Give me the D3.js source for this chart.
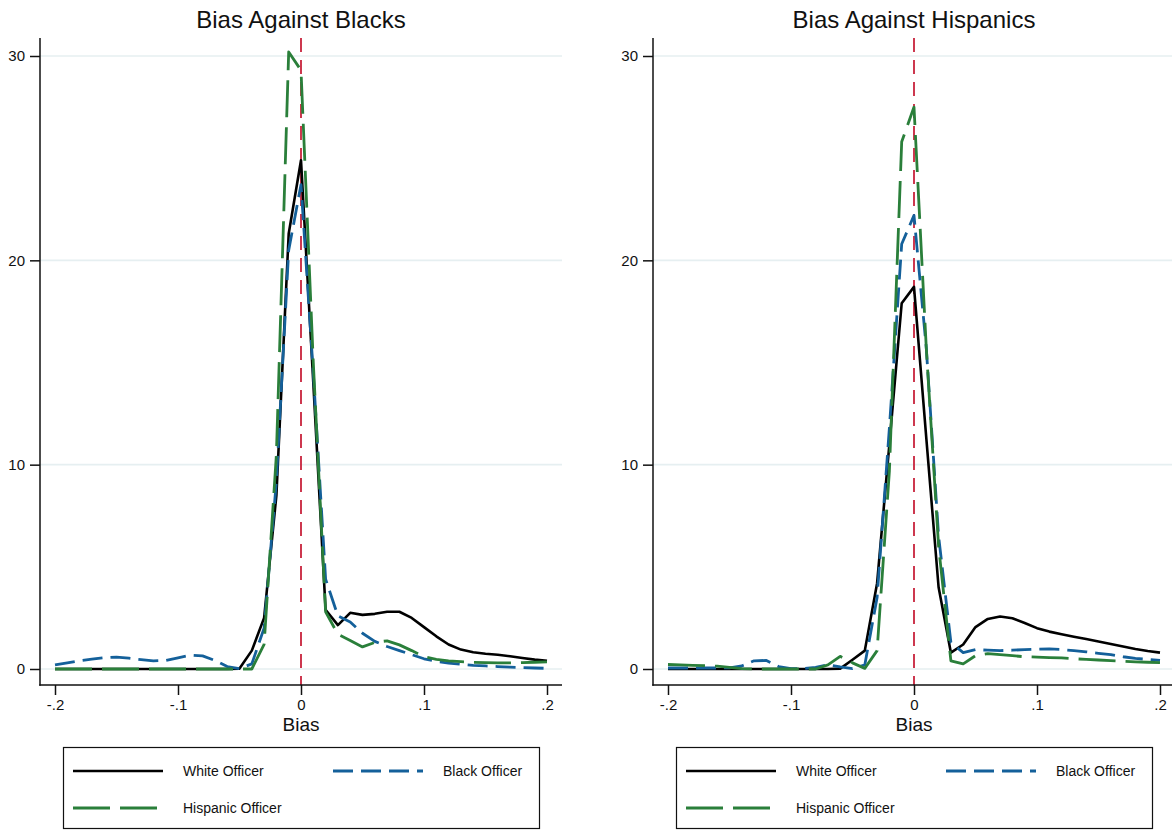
<!DOCTYPE html>
<html>
<head>
<meta charset="utf-8">
<script src="https://cdn.jsdelivr.net/npm/d3@7"></script>
<style>
  html, body { margin: 0; padding: 0; background: #ffffff; }
  svg { display: block; font-family: "Liberation Sans", Arial, Helvetica, sans-serif; }
</style>
</head>
<body>
<svg id="chart" width="1172" height="831"></svg>
<script>
// Evaluation grid for the kernel densities (bias values)
const biasGrid = [-0.20, -0.19, -0.18, -0.17, -0.16, -0.15, -0.14, -0.13, -0.12, -0.11,
                  -0.10, -0.09, -0.08, -0.07, -0.06, -0.05, -0.04, -0.03, -0.02, -0.01,
                   0.00,  0.01,  0.02,  0.03,  0.04,  0.05,  0.06,  0.07,  0.08,  0.09,
                   0.10,  0.11,  0.12,  0.13,  0.14,  0.15,  0.16,  0.17,  0.18,  0.19, 0.20];

// Bias against Blacks: density by officer race
const blacksWhite    = [0, 0, 0, 0, 0, 0, 0, 0, 0, 0,
                        0, 0, 0, 0, 0, 0.02, 0.9, 2.5, 8.5, 21.3,
                        24.9, 14.0, 2.9, 2.15, 2.75, 2.65, 2.7, 2.8, 2.8, 2.5,
                        2.05, 1.6, 1.2, 0.95, 0.82, 0.75, 0.7, 0.62, 0.54, 0.46, 0.4];
const blacksBlack    = [0.2, 0.3, 0.4, 0.48, 0.55, 0.58, 0.53, 0.46, 0.4, 0.42,
                        0.55, 0.68, 0.64, 0.42, 0.12, 0.02, 0.25, 2.0, 9.2, 20.5,
                        23.7, 14.5, 4.4, 2.6, 2.3, 1.75, 1.35, 1.1, 0.9, 0.7,
                        0.5, 0.38, 0.29, 0.23, 0.18, 0.15, 0.12, 0.09, 0.07, 0.05, 0.03];
const blacksHispanic = [0, 0, 0, 0, 0, 0, 0, 0, 0, 0,
                        0, 0, 0, 0, 0, 0, 0, 1.2, 10.5, 30.2,
                        29.3, 15.0, 2.8, 1.7, 1.4, 1.08, 1.3, 1.38, 1.18, 0.9,
                        0.6, 0.47, 0.4, 0.36, 0.33, 0.31, 0.3, 0.3, 0.31, 0.33, 0.35];

// Bias against Hispanics: density by officer race
const hispWhite      = [0, 0, 0, 0, 0, 0, 0, 0, 0, 0,
                        0, 0, 0, 0, 0.02, 0.45, 0.9, 4.2, 11.0, 17.9,
                        18.7, 11.3, 4.0, 0.8, 1.2, 2.05, 2.45, 2.57, 2.48, 2.25,
                        2.0, 1.83, 1.7, 1.58, 1.47, 1.35, 1.22, 1.1, 0.98, 0.88, 0.8];
const hispBlack      = [0.05, 0.05, 0.05, 0.05, 0.05, 0.06, 0.15, 0.4, 0.42, 0.12,
                        0.02, 0.02, 0.08, 0.2, 0.1, 0.02, 0.2, 3.5, 11.8, 20.8,
                        22.2, 15.7, 6.5, 1.3, 0.8, 0.95, 0.92, 0.9, 0.92, 0.95,
                        0.97, 0.98, 0.95, 0.9, 0.84, 0.77, 0.7, 0.6, 0.52, 0.47, 0.42];
const hispHispanic   = [0.22, 0.2, 0.18, 0.17, 0.14, 0.08, 0.02, 0, 0, 0,
                        0, 0, 0, 0.2, 0.62, 0.3, 0.03, 0.9, 9.7, 25.8,
                        27.5, 15.7, 6.0, 0.4, 0.25, 0.65, 0.75, 0.7, 0.65, 0.6,
                        0.58, 0.56, 0.54, 0.5, 0.47, 0.44, 0.41, 0.38, 0.35, 0.33, 0.31];

const panelTitles  = ["Bias Against Blacks", "Bias Against Hispanics"];
const seriesNames  = ["White Officer", "Black Officer", "Hispanic Officer"];
const xTickValues  = [-0.2, -0.1, 0, 0.1, 0.2];
const xTickLabels  = ["-.2", "-.1", "0", ".1", ".2"];
const yTickValues  = [0, 10, 20, 30];
const yTickLabels  = ["0", "10", "20", "30"];
const xLineAt      = 0;

const panels = [
  { title: panelTitles[0], series: [blacksWhite, blacksBlack, blacksHispanic] },
  { title: panelTitles[1], series: [hispWhite, hispBlack, hispHispanic] }
];

// Line styles per officer series
const styles = [
  { color: "#000000", width: 2.6, dash: null },
  { color: "#14609a", width: 2.8, dash: "20,8" },
  { color: "#2a7f3a", width: 2.8, dash: "37,10" }
];

const svg = d3.select("#chart");
const panelShift = 613;

panels.forEach((p, i) => {
  const ox = i * panelShift;
  const g = svg.append("g").attr("transform", `translate(${ox},0)`);

  const x = d3.scaleLinear().domain([-0.2, 0.2]).range([55, 547]);
  const y = d3.scaleLinear().domain([0, 30]).range([669, 56]);

  const plotLeft = 40, plotRight = 562, plotTop = 38, plotBottom = 685;

  // gridlines
  g.append("g").selectAll("line").data(yTickValues).join("line")
    .attr("x1", plotLeft).attr("x2", plotRight)
    .attr("y1", d => y(d)).attr("y2", d => y(d))
    .attr("stroke", "#e6eff1").attr("stroke-width", 1.6);

  // reference line at zero bias
  g.append("line")
    .attr("x1", x(xLineAt)).attr("x2", x(xLineAt))
    .attr("y1", plotTop).attr("y2", plotBottom)
    .attr("stroke", "#c8233c").attr("stroke-width", 1.8)
    .attr("stroke-dasharray", "14,8");

  // density curves
  const line = d3.line()
    .x((d, k) => x(biasGrid[k]))
    .y(d => y(d));

  p.series.forEach((vals, s) => {
    g.append("path")
      .datum(vals)
      .attr("d", line)
      .attr("fill", "none")
      .attr("stroke", styles[s].color)
      .attr("stroke-width", styles[s].width)
      .attr("stroke-linejoin", "round")
      .attr("stroke-dasharray", styles[s].dash);
  });

  // y axis
  const yAxis = d3.axisLeft(y)
    .tickValues(yTickValues)
    .tickFormat((d, k) => yTickLabels[k])
    .tickSize(10).tickPadding(5).tickSizeOuter(0);
  const ya = g.append("g").attr("transform", `translate(${plotLeft},0)`).call(yAxis);
  ya.select(".domain").remove();
  ya.selectAll(".tick line").attr("stroke", "#111").attr("stroke-width", 1.5);
  ya.selectAll(".tick text").attr("font-size", 15).attr("fill", "#111")
    .attr("font-family", "'Liberation Sans', Arial, sans-serif");
  g.append("line")
    .attr("x1", plotLeft).attr("x2", plotLeft)
    .attr("y1", plotTop).attr("y2", plotBottom + 0.75)
    .attr("stroke", "#111").attr("stroke-width", 1.5);

  // x axis
  const xAxis = d3.axisBottom(x)
    .tickValues(xTickValues)
    .tickFormat((d, k) => xTickLabels[k])
    .tickSize(10).tickPadding(4).tickSizeOuter(0);
  const xa = g.append("g").attr("transform", `translate(0,${plotBottom})`).call(xAxis);
  xa.select(".domain").remove();
  xa.selectAll(".tick line").attr("stroke", "#111").attr("stroke-width", 1.5);
  xa.selectAll(".tick text").attr("font-size", 15).attr("fill", "#111")
    .attr("font-family", "'Liberation Sans', Arial, sans-serif");
  g.append("line")
    .attr("x1", plotLeft - 0.75).attr("x2", plotRight)
    .attr("y1", plotBottom).attr("y2", plotBottom)
    .attr("stroke", "#111").attr("stroke-width", 1.5);

  // titles
  g.append("text")
    .attr("x", (plotLeft + plotRight) / 2).attr("y", 28)
    .attr("text-anchor", "middle").attr("font-size", 24).attr("fill", "#111")
    .text(p.title);
  g.append("text")
    .attr("x", (plotLeft + plotRight) / 2).attr("y", 731)
    .attr("text-anchor", "middle").attr("font-size", 19).attr("fill", "#111")
    .text("Bias");

  // legend
  const lg = g.append("g");
  lg.append("rect")
    .attr("x", 63.5).attr("y", 747.5).attr("width", 476).attr("height", 81)
    .attr("fill", "#fff").attr("stroke", "#111").attr("stroke-width", 1.2);
  const keys = [
    { s: 0, x: 73, y: 771 },
    { s: 1, x: 333, y: 771 },
    { s: 2, x: 73, y: 808 }
  ];
  keys.forEach(k => {
    lg.append("line")
      .attr("x1", k.x).attr("x2", k.x + 90)
      .attr("y1", k.y).attr("y2", k.y)
      .attr("stroke", styles[k.s].color)
      .attr("stroke-width", styles[k.s].width)
      .attr("stroke-dasharray", styles[k.s].dash);
    lg.append("text")
      .attr("x", k.x + 110).attr("y", k.y + 5)
      .attr("font-size", 14).attr("fill", "#111")
      .text(seriesNames[k.s]);
  });
});
</script>
</body>
</html>
